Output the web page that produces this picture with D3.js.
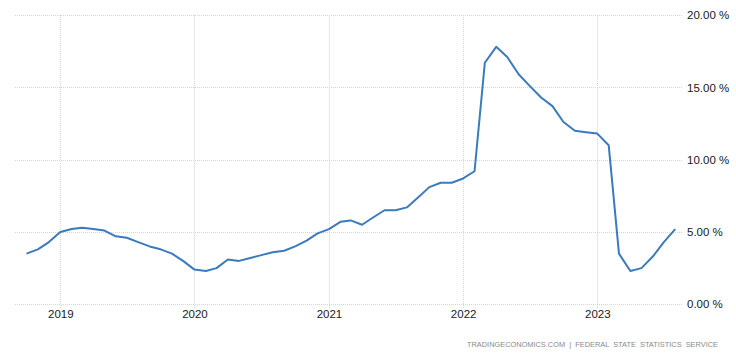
<!DOCTYPE html>
<html><head><meta charset="utf-8">
<script src="https://cdn.jsdelivr.net/npm/d3@7"></script>
<style>body{margin:0;background:#fff}svg{display:block}</style>
</head><body>
<svg id="c" width="736" height="356"></svg>
<script>
const startMonth = "2018-10";
const values = [
  3.5, 3.8, 4.3,
  5.0, 5.2, 5.3, 5.2, 5.1, 4.7, 4.6, 4.3, 4.0, 3.8, 3.5, 3.0,
  2.4, 2.3, 2.5, 3.1, 3.0, 3.2, 3.4, 3.6, 3.7, 4.0, 4.4, 4.9,
  5.2, 5.7, 5.8, 5.5, 6.0, 6.5, 6.5, 6.7, 7.4, 8.1, 8.4, 8.4,
  8.7, 9.2, 16.7, 17.8, 17.1, 15.9, 15.1, 14.3, 13.7, 12.6, 12.0, 11.9,
  11.8, 11.0, 3.5, 2.3, 2.5, 3.3, 4.3, 5.2
];
const yTicks = [0, 5, 10, 15, 20];
const xTickYears = [2019, 2020, 2021, 2022, 2023];
const sourceText = "TRADINGECONOMICS.COM  |  FEDERAL  STATE  STATISTICS  SERVICE";

(function () {
const parse = d3.timeParse("%Y-%m");
const t0 = parse(startMonth);
const data = values.map((v, i) => ({date: d3.timeMonth.offset(t0, i), value: v}));

const svg = d3.select("#c");
const pLeft = 15, pRight = 683, pTop = 15, pBottom = 304.3;

const x = d3.scaleTime()
  .domain([new Date(2019, 0, 1), new Date(2023, 0, 1)])
  .range([60.3, 597.3]);
const y = d3.scaleLinear().domain([0, 20]).range([pBottom, pTop]);

const grid = svg.append("g");
grid.selectAll("line.h").data(yTicks).join("line")
  .attr("x1", pLeft).attr("x2", pRight)
  .attr("y1", d => Math.round(y(d)) + 0.5).attr("y2", d => Math.round(y(d)) + 0.5)
  .attr("stroke", "#d6d6d6").attr("stroke-dasharray", "1,1");
const xDates = xTickYears.map(yr => new Date(yr, 0, 1));
grid.selectAll("line.v").data(xDates).join("line")
  .attr("x1", d => Math.round(x(d)) + 0.5).attr("x2", d => Math.round(x(d)) + 0.5)
  .attr("y1", pTop).attr("y2", pBottom + 4)
  .attr("stroke", "#d6d6d6").attr("stroke-dasharray", "1,1");

const yAxis = d3.axisRight(y).tickValues(yTicks).tickSize(0).tickPadding(0)
  .tickFormat(d => d3.format(".2f")(d) + " %");
const gy = svg.append("g").attr("transform", "translate(687,0)").call(yAxis);
gy.select(".domain").remove();
gy.selectAll("text").attr("font-family", "Arial, 'Liberation Sans', sans-serif")
  .attr("font-size", 11.5).attr("fill", "#1a1a1a");

const xAxis = d3.axisBottom(x).tickValues(xDates).tickSize(0).tickPadding(0)
  .tickFormat(d3.timeFormat("%Y"));
const gx = svg.append("g").attr("transform", `translate(0,${pBottom + 6})`).call(xAxis);
gx.select(".domain").remove();
gx.selectAll("text").attr("font-family", "Arial, 'Liberation Sans', sans-serif")
  .attr("font-size", 11.5).attr("fill", "#1a1a1a");

const line = d3.line().x(d => x(d.date)).y(d => y(d.value));
svg.append("path").datum(data).attr("d", line)
  .attr("fill", "none").attr("stroke", "#3a7bbd").attr("stroke-width", 2)
  .attr("stroke-linejoin", "round");

svg.append("text").attr("x", 718).attr("y", 347).attr("text-anchor", "end")
  .attr("font-family", "Arial, 'Liberation Sans', sans-serif").attr("font-size", 7.4)
  .attr("fill", "#8a8a8a").attr("xml:space", "preserve").style("white-space", "pre")
  .text(sourceText);
})();
</script>
</body></html>
